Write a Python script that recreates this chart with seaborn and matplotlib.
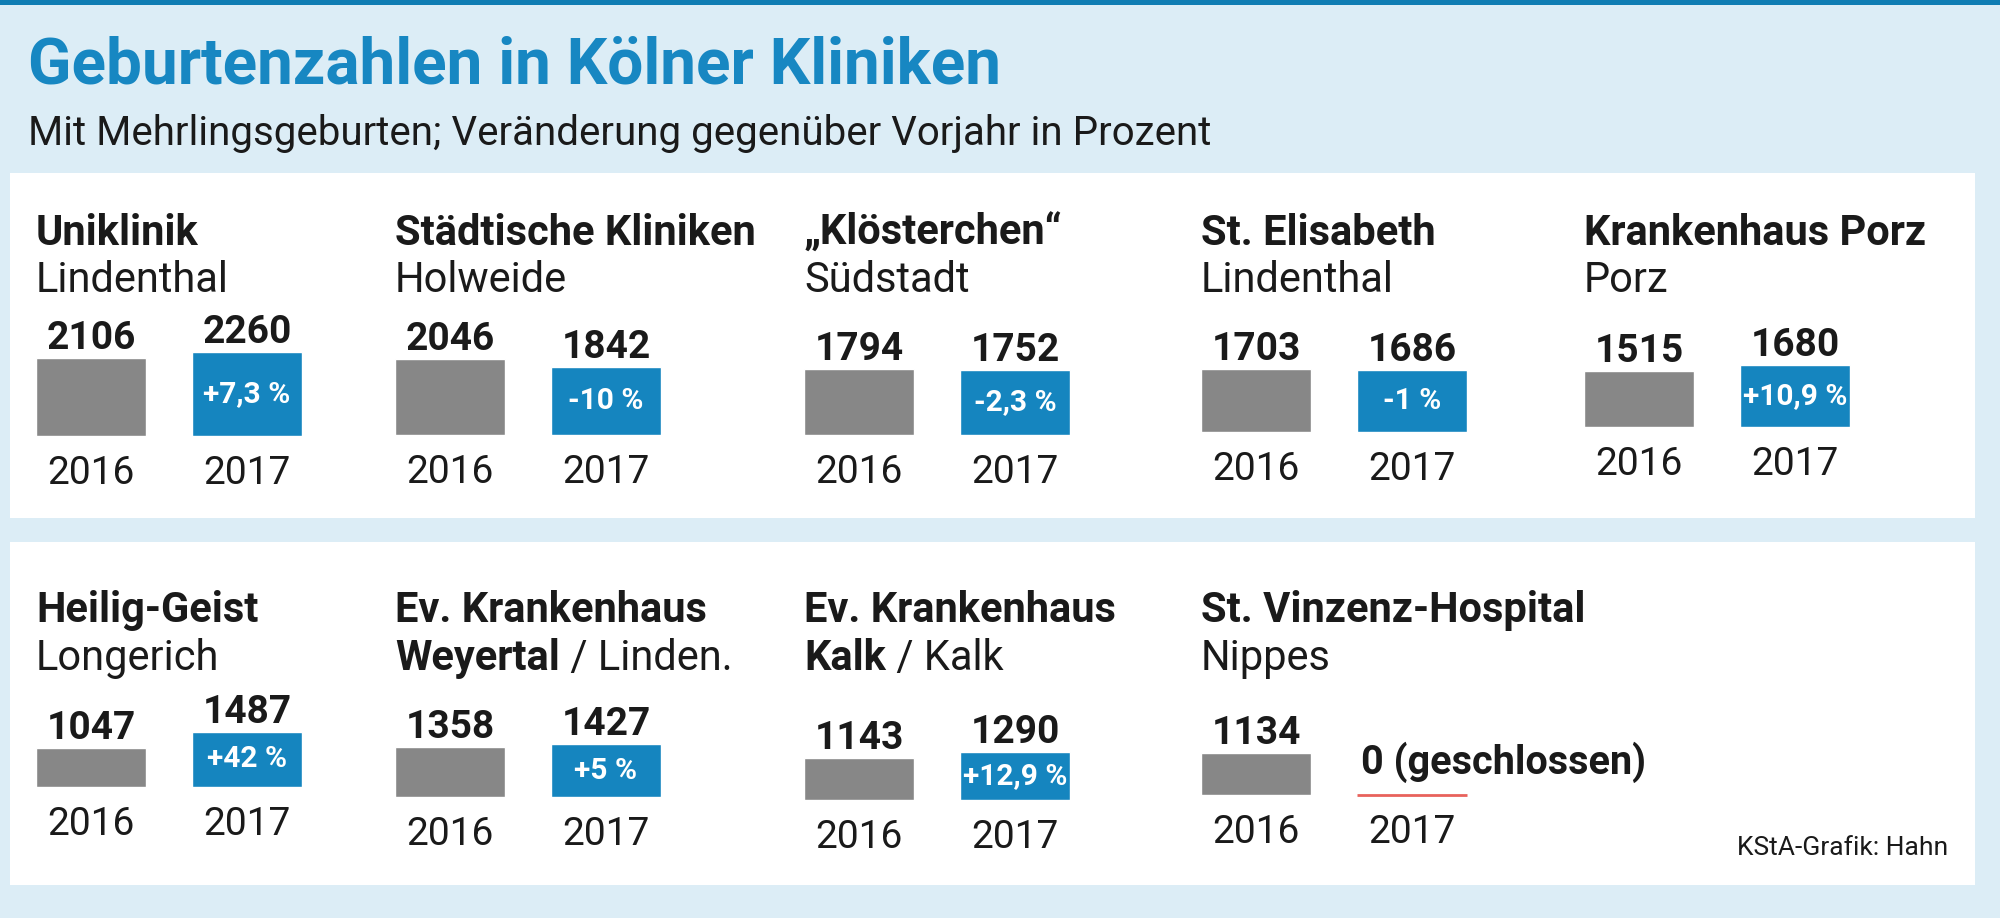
import matplotlib
matplotlib.use("Agg")
import matplotlib.pyplot as plt
import seaborn as sns
import pandas as pd
from matplotlib.patches import Rectangle

# Data
names = ["Uniklinik", "Städtische Kliniken", "\u201eKlösterchen\u201c", "St. Elisabeth",
         "Krankenhaus Porz", "Heilig-Geist", "Ev. Krankenhaus", "Ev. Krankenhaus",
         "St. Vinzenz-Hospital"]
name_bold_line2 = ["", "", "", "", "", "", "Weyertal", "Kalk", ""]
districts = ["Lindenthal", "Holweide", "Südstadt", "Lindenthal", "Porz",
             "Longerich", "Linden.", "Kalk", "Nippes"]
years = ["2016", "2017"]
births_2016 = [2106, 2046, 1794, 1703, 1515, 1047, 1358, 1143, 1134]
births_2017 = [2260, 1842, 1752, 1686, 1680, 1487, 1427, 1290, 0]
change = ["+7,3 %", "-10 %", "-2,3 %", "-1 %", "+10,9 %", "+42 %", "+5 %", "+12,9 %", ""]

# Layout (pixels from top-left of a 2000x918 image)
W, H = 2000, 918
col_x = [36, 395, 804, 1201, 1584, 36, 395, 804, 1201]
title_base = [245] * 5 + [622] * 4
sub_base = [292] * 5 + [670] * 4
bar_bottom = [436, 435, 435, 432, 427, 787, 797, 800, 795]
PX_PER_BIRTH = 0.037
BAR_W = 0.7
AX_H = 120

BG = "#dcedf6"
STRIP = "#0f7db3"
TITLE_BLUE = "#1787c2"
BLUE = "#1585bf"
GRAY = "#878787"
RED = "#e8625c"
TXT = "#1a1a1a"

sns.set_style("white")
plt.rcParams["font.family"] = ["Roboto", "DejaVu Sans"]


def fx(x):
    return x / W


def fy(y):
    return 1 - y / H


fig = plt.figure(figsize=(20, 9.18), dpi=100)
fig.patch.set_facecolor(BG)

# top strip and white panels
fig.add_artist(Rectangle((0, fy(5)), 1, 5 / H, transform=fig.transFigure,
                         facecolor=STRIP, edgecolor="none", zorder=0))
for top, bot in [(173, 518), (542, 885)]:
    fig.add_artist(Rectangle((fx(10), fy(bot)), fx(1975 - 10), (bot - top) / H,
                             transform=fig.transFigure, facecolor="white",
                             edgecolor="none", zorder=0))

# title
fig.text(fx(28), fy(84), "Geburtenzahlen in Kölner Kliniken", fontsize=46,
         fontweight="bold", color=TITLE_BLUE, va="baseline")
fig.text(fx(28), fy(145), "Mit Mehrlingsgeburten; Veränderung gegenüber Vorjahr in Prozent",
         fontsize=29, color=TXT, va="baseline")

for i in range(len(names)):
    x0 = col_x[i]
    ax = fig.add_axes([fx(x0 - 23), fy(bar_bottom[i]), 312 / W, AX_H / H])
    ax.patch.set_alpha(0)
    vals = [births_2016[i], births_2017[i]]
    df = pd.DataFrame({"Jahr": years, "Geburten": vals})
    sns.barplot(data=df, x="Jahr", y="Geburten", hue="Jahr", palette=[GRAY, BLUE],
                width=BAR_W, saturation=1, legend=False, ax=ax)
    ax.set_xlim(-0.5, 1.5)
    ax.set_ylim(0, AX_H / PX_PER_BIRTH)
    ax.axis("off")

    for j, v in enumerate(vals):
        ax.annotate(years[j], xy=(j, 0), xytext=(0, -48), textcoords="offset pixels",
                    ha="center", va="baseline", fontsize=28, color=TXT,
                    annotation_clip=False)
        if v > 0:
            ax.annotate(str(v), xy=(j, v), xytext=(0, 9), textcoords="offset pixels",
                        ha="center", va="baseline", fontsize=28, fontweight="bold",
                        color=TXT, annotation_clip=False)
    if change[i]:
        ax.annotate(change[i], xy=(1, vals[1] / 2), ha="center", va="center",
                    fontsize=21.5, fontweight="bold", color="white", annotation_clip=False)
    if vals[1] == 0:
        ax.hlines(0, 1 - BAR_W / 2, 1 + BAR_W / 2, color=RED, lw=2, clip_on=False)
        ax.annotate("0 (geschlossen)", xy=(1 - BAR_W / 2, 0), xytext=(4, 21),
                    textcoords="offset pixels", ha="left", va="baseline", fontsize=28.5,
                    fontweight="bold", color=TXT, annotation_clip=False)

    # panel headings
    fig.text(fx(x0), fy(title_base[i]), names[i], fontsize=30, fontweight="bold",
             color=TXT, va="baseline")
    if name_bold_line2[i]:
        t = fig.text(fx(x0), fy(sub_base[i]), name_bold_line2[i], fontsize=30,
                     fontweight="bold", color=TXT, va="baseline")
        ax.annotate(" / " + districts[i], xy=(1, 0), xycoords=t, ha="left", va="bottom",
                    fontsize=30, color=TXT, annotation_clip=False)
    else:
        fig.text(fx(x0), fy(sub_base[i]), districts[i], fontsize=30, color=TXT,
                 va="baseline")

fig.text(fx(1948), fy(855), "KStA-Grafik: Hahn", fontsize=19, color=TXT,
         ha="right", va="baseline")

plt.savefig("out.png", dpi=100, facecolor=BG)
